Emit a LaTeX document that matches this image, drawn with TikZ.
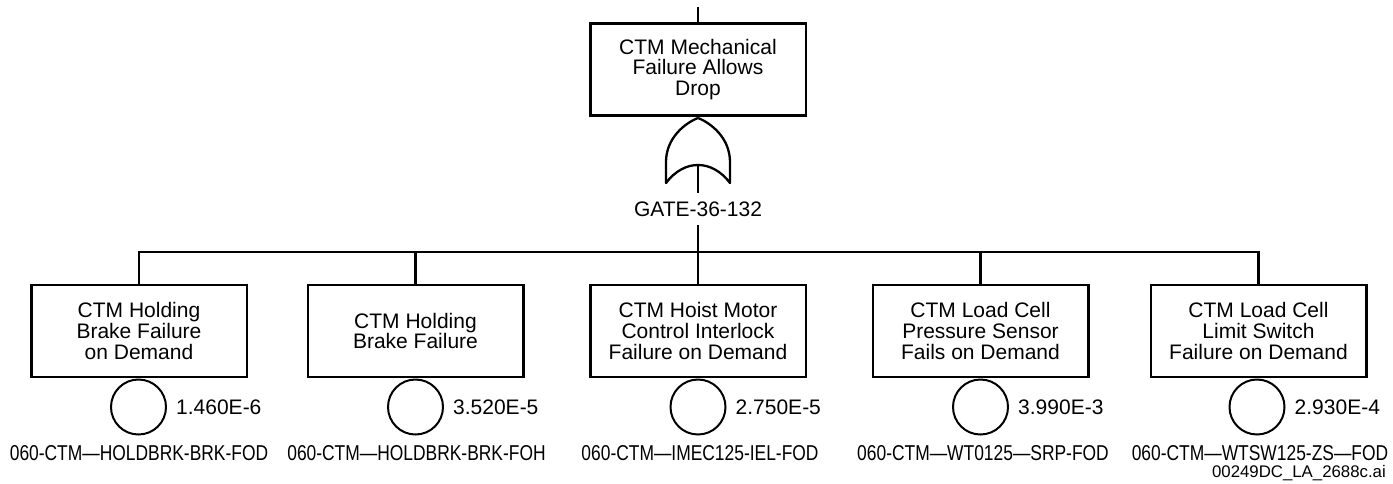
\documentclass[tikz,border=0pt]{standalone}
\usepackage{fontspec}
\setmainfont{Liberation Sans}
\newfontfamily\lblfam[FakeStretch=0.81]{Liberation Sans}
\newcommand\myboxfont{\fontsize{21}{20.8}\selectfont}
\newcommand\mynumfont{\fontsize{21}{21}\selectfont}
\newcommand\mylblfont{\lblfam\fontsize{21.5}{21.5}\selectfont}
\newcommand\myfilefont{\fontsize{16.8}{16.8}\selectfont}
\tikzset{
  evbox/.style={draw, line width=2.5pt, minimum width=215.5pt, minimum height=92pt, align=center, inner sep=0pt, font=\myboxfont},
  basicev/.style={circle, draw, line width=2pt, minimum size=55pt, inner sep=0pt},
  prob/.style={anchor=west, font=\mynumfont, inner sep=0pt},
  lbl/.style={font=\mylblfont, inner sep=0pt},
  conn/.style={line width=2.5pt},
  gateline/.style={line width=2.3pt, line join=round}
}
\begin{document}
\begin{tikzpicture}[x=1pt,y=-1pt]
\useasboundingbox (0,0) rectangle (1393,483);
% top event
\node[evbox] (top) at (698,69.5) {CTM Mechanical\\Failure Allows\\Drop};
\coordinate (topin) at (698,7);
\draw[conn] (topin) -- (top.north);
% OR gate
\coordinate (gtop) at (698,118);
\coordinate (gout) at (698,165);
\draw[gateline] (gtop) .. controls (685,123) and (666,138) .. (666,162) -- (666,183)
  .. controls (684,159) and (712,159) .. (730,183) -- (730,162)
  .. controls (730,138) and (711,123) .. (gtop);
\node[font=\mynumfont, inner xsep=0pt, inner ysep=8.5pt] (glabel) at (698,209) {GATE-36-132};
\draw[conn] (gout) -- (glabel.north);
\coordinate (bar) at (698,252);
\draw[conn] (glabel.south) -- (bar);
% basic event boxes
\node[evbox] (b1) at (139,331) {CTM Holding\\Brake Failure\\on Demand};
\node[evbox] (b2) at (415.5,331) {CTM Holding\\Brake Failure};
\node[evbox] (b3) at (698,331) {CTM Hoist Motor\\Control Interlock\\Failure on Demand};
\node[evbox] (b4) at (980.5,331) {CTM Load Cell\\Pressure Sensor\\Fails on Demand};
\node[evbox] (b5) at (1258.5,331) {CTM Load Cell\\Limit Switch\\Failure on Demand};
\draw[conn] (b1.north) |- (bar) -| (b5.north);
\draw[conn] (b2.north) -- (b2.north |- bar);
\draw[conn] (b3.north) -- (bar);
\draw[conn] (b4.north) -- (b4.north |- bar);
% circles
\node[basicev] (c1) at (138.5,407) {};
\node[basicev] (c2) at (415.5,407) {};
\node[basicev] (c3) at (698,407) {};
\node[basicev] (c4) at (980.5,407) {};
\node[basicev] (c5) at (1257,407) {};
% probabilities
\node[prob] (p1) at ([xshift=9pt]c1.east) {1.460E-6};
\node[prob] (p2) at ([xshift=9pt]c2.east) {3.520E-5};
\node[prob] (p3) at ([xshift=9pt]c3.east) {2.750E-5};
\node[prob] (p4) at ([xshift=9pt]c4.east) {3.990E-3};
\node[prob] (p5) at ([xshift=9pt]c5.east) {2.930E-4};
% identifiers
\node[lbl] (l1) at (139,453) {060-CTM—HOLDBRK-BRK-FOD};
\node[lbl] (l2) at (416.5,453) {060-CTM—HOLDBRK-BRK-FOH};
\node[lbl] (l3) at (700,453) {060-CTM—IMEC125-IEL-FOD};
\node[lbl] (l4) at (983,453) {060-CTM—WT0125—SRP-FOD};
\node[lbl] (l5) at (1260,453) {060-CTM—WTSW125-ZS—FOD};
\node[font=\myfilefont, anchor=east, inner sep=0pt] (fname) at (1386,473) {00249DC\_LA\_2688c.ai};
\end{tikzpicture}
\end{document}
